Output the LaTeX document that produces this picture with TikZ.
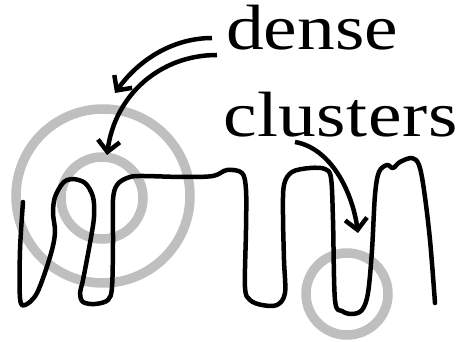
\documentclass[tikz,border=0pt]{standalone}
\usepackage{fontspec}
\setmainfont[FakeStretch=1.18]{Liberation Serif}
\usetikzlibrary{arrows.meta}
\begin{document}
\begin{tikzpicture}[x=1pt,y=-1pt,
  ring/.style={draw=gray!50,line width=9.5pt},
  squiggle/.style={draw=black,line width=4.5pt,line join=round,line cap=round},
  pointer/.style={draw=black,line width=4.5pt,-{Straight Barb[length=11pt,width=22pt,line width=4.5pt]}},
  word/.style={anchor=base west,inner sep=0pt,font=\fontsize{64}{64}\selectfont}]
\useasboundingbox (0,0) rectangle (456,342);
% rings
\node[ring,circle,minimum size=174pt,inner sep=0pt] (big) at (103,196) {};
\node[ring,circle,minimum size=82pt,inner sep=0pt] (small) at (102,198) {};
\node[ring,circle,minimum size=82pt,inner sep=0pt] (low) at (347,294) {};
% curve
\draw[squiggle] plot[smooth,tension=0.55] coordinates {
 (23,202) (20,250) (20,298) (25,305) (37,293) (50,257) (55,233) (53,213)
 (55,197) (63,183) (72,179) (85,183) (93,197) (94,217) (90,243) (83,280)
 (80,293) (83,302) (95,304) (108,300) (112,287) (113,243) (113,200)
 (117,185) (127,178) (140,176) (183,177) (213,176) (227,170) (242,173)
 (246,190) (246,230) (245,287) (250,300) (262,305) (277,305) (285,293)
 (284,260) (283,215) (284,185) (292,172) (310,168) (325,169) (331,178)
 (333,220) (335,300) (342,311) (352,314) (362,310) (368,293) (372,250)
 (375,195) (379,172) (387,165) (393,168) (400,162) (412,158) (419,165)
 (424,190) (430,240) (435,303)};
% words
\node[word] (dense) at (226,50) {dense};
\node[word] (clusters) at (223,137) {\addfontfeature{LetterSpace=0.8}clusters};
% arrows
\coordinate (a1s) at (212,38);
\coordinate (a1e) at (115,93);
\coordinate (a2s) at (217,55);
\coordinate (a2e) at (107,155);
\coordinate (a3s) at (295,142);
\coordinate (a3e) at (358,233);
\draw[pointer] (a1s) .. controls (175,38) and (140,58) .. (a1e);
\draw[pointer] (a2s) .. controls (160,55) and (115,95) .. (a2e);
\draw[pointer] (a3s) .. controls (330,148) and (352,190) .. (a3e);
\end{tikzpicture}
\end{document}
